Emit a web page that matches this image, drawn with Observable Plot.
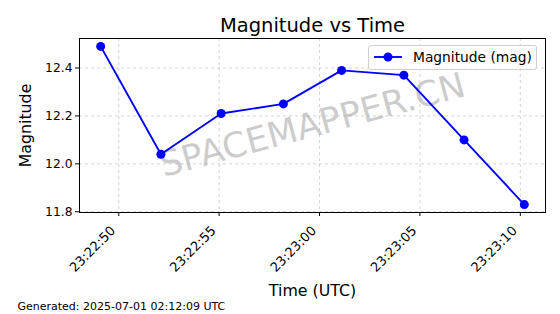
<!DOCTYPE html>
<html><head><meta charset="utf-8">
<script src="https://cdn.jsdelivr.net/npm/d3@7"></script>
<script src="https://cdn.jsdelivr.net/npm/@observablehq/plot@0.6"></script>
<style>
body{margin:0;background:#fff;}
#chart{position:relative;width:560px;height:314px;font-family:"DejaVu Sans",sans-serif;}
#legend{position:absolute;left:368px;top:45px;width:169px;height:25px;border:1px solid #d0d0d0;border-radius:3px;background:rgba(255,255,255,0.8);box-sizing:border-box;}
#legend svg{position:absolute;left:0;top:0;}
#legend span{position:absolute;left:44px;top:3px;font-size:13.8px;line-height:16px;color:#000;white-space:nowrap;}
</style></head><body><div id="chart"></div>
<script>
const times = ["2025-06-30T23:22:49.1Z","2025-06-30T23:22:52.1Z","2025-06-30T23:22:55.1Z","2025-06-30T23:22:58.2Z","2025-06-30T23:23:01.1Z","2025-06-30T23:23:04.2Z","2025-06-30T23:23:07.2Z","2025-06-30T23:23:10.2Z"];
const magnitudes = [12.49, 12.04, 12.21, 12.25, 12.39, 12.37, 12.10, 11.83];
const xTickTimes = ["2025-06-30T23:22:50Z","2025-06-30T23:22:55Z","2025-06-30T23:23:00Z","2025-06-30T23:23:05Z","2025-06-30T23:23:10Z"];
const yTicks = [11.8, 12.0, 12.2, 12.4];
const titleText = "Magnitude vs Time";
const xLabel = "Time (UTC)";
const yLabel = "Magnitude";
const seriesName = "Magnitude (mag)";
const watermark = "SPACEMAPPER.CN";
const footer = "Generated: 2025-07-01 02:12:09 UTC";

const data = times.map((t, i) => ({time: new Date(t), mag: magnitudes[i]}));
const xTicks = xTickTimes.map(t => new Date(t));
const pad = (ext) => { const r = ext[1] - ext[0]; return [ext[0] - r * 0.05, ext[1] + r * 0.05]; };
const tx = pad(d3.extent(data, d => +d.time));
const xDomain = [new Date(tx[0]), new Date(tx[1])];
const yDomain = pad(d3.extent(magnitudes));

const grid = {stroke: "#b0b0b0", strokeOpacity: 0.7, strokeDasharray: "3,3", strokeWidth: 0.8};
const plot = Plot.plot({
  width: 560, height: 314,
  marginLeft: 79, marginRight: 15, marginTop: 38, marginBottom: 102,
  style: {fontFamily: "DejaVu Sans, sans-serif", fontSize: "12.3px", color: "black", background: "white", overflow: "visible"},
  x: {type: "utc", domain: xDomain},
  y: {domain: yDomain},
  marks: [
    Plot.gridX(xTicks, grid),
    Plot.gridY(yTicks, grid),
    Plot.text([watermark], {frameAnchor: "middle", rotate: -15, fontSize: 35, fill: "#999", fillOpacity: 0.5}),
    Plot.line(data, {x: "time", y: "mag", stroke: "#0000ff", strokeWidth: 1.9}),
    Plot.dot(data, {x: "time", y: "mag", r: 4.5, fill: "#0000ff", stroke: "none"}),
    Plot.frame({stroke: "black", strokeWidth: 1}),
    Plot.axisX(xTicks, {tickFormat: () => "", tickSize: 4, label: null, stroke: "black"}),
    Plot.axisX(xTicks, {tickFormat: d3.utcFormat("%H:%M:%S"), tickRotate: -45, tickSize: 0, tickPadding: 0, fontSize: 13, textAnchor: "end", lineAnchor: "middle", dx: -5.5, dy: 16, label: null, fill: "black"}),
    Plot.axisY(yTicks, {tickFormat: d3.format(".1f"), tickSize: 4, tickPadding: 3, label: null, fill: "black", stroke: "black"}),
    Plot.text([titleText], {frameAnchor: "top", lineAnchor: "middle", dy: -13.2, fontSize: 19.5, fill: "black"}),
    Plot.text([xLabel], {frameAnchor: "bottom", lineAnchor: "middle", dy: 78, fontSize: 15.8, fill: "black"}),
    Plot.text([yLabel], {frameAnchor: "left", lineAnchor: "middle", textAnchor: "middle", dx: -53.5, rotate: -90, fontSize: 15.8, fill: "black"}),
    Plot.text([footer], {frameAnchor: "bottom-left", lineAnchor: "middle", dx: -62, dy: 93.5, fontSize: 11, textAnchor: "start", fill: "black"})
  ]
});
const chart = document.getElementById("chart");
chart.appendChild(plot);
const lg = document.createElement("div");
lg.id = "legend";
lg.innerHTML = '<svg width="40" height="25"><line x1="5" y1="11" x2="33" y2="11" stroke="#0000ff" stroke-width="1.9"/><circle cx="19" cy="11" r="4.5" fill="#0000ff"/></svg><span></span>';
lg.querySelector("span").textContent = seriesName;
chart.appendChild(lg);
</script></body></html>
